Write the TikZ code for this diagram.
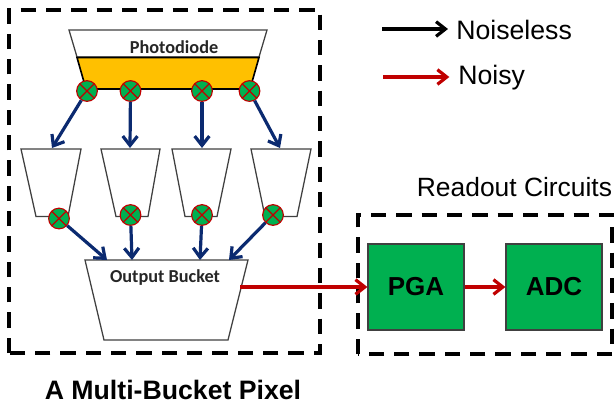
\documentclass[tikz,border=0pt]{standalone}
\usepackage{fontspec}
\setmainfont{Liberation Sans}
\newfontfamily\carl{Carlito}
\usetikzlibrary{arrows.meta}
\definecolor{navyarrow}{HTML}{0B2A70}
\definecolor{redline}{HTML}{C00000}
\definecolor{boxgreen}{HTML}{00B050}
\definecolor{pdorange}{HTML}{FFC000}
\definecolor{bucketline}{HTML}{404040}
\tikzset{
  px/.style={x=0.75pt,y=-0.75pt},
  dashbox/.style={draw=black,line width=2.7pt,dash pattern=on 11.5pt off 7.5pt,line cap=butt},
  bucket/.style={draw=bucketline,line width=0.95pt,line join=miter,fill=white},
  valve/.style={circle,draw=redline,fill=boxgreen,line width=0.85pt,minimum size=15.5pt,inner sep=0pt,
    path picture={\draw[redline,line width=0.85pt]
      (path picture bounding box.north west)--(path picture bounding box.south east)
      (path picture bounding box.north east)--(path picture bounding box.south west);}},
  navyarr/.style={line width=2.4pt,draw=navyarrow,-{Straight Barb[length=7pt,width=11pt]}},
  redarr/.style={line width=2.4pt,draw=redline,-{Straight Barb[length=7pt,width=11pt]}},
  blackarr/.style={line width=2.4pt,draw=black,-{Straight Barb[length=7pt,width=11pt]}},
  block/.style={draw=bucketline,fill=boxgreen,line width=0.9pt,minimum width=72pt,minimum height=64.5pt,inner sep=0pt,font=\fontsize{19.5pt}{21pt}\selectfont\bfseries},
  lbl/.style={inner sep=0pt,text=black},
  bucketlbl/.style={inner sep=0pt,text=black!85,font=\carl\bfseries\fontsize{13.7pt}{15pt}\selectfont},
}
\begin{document}
\begin{tikzpicture}[px]
\useasboundingbox (0,0) rectangle (615,405);
% dashed boxes
\draw[dashbox] (9,353) -- (9,10) -- (320,10) -- (320,353) -- cycle;
\draw[dashbox] (358,354) -- (358,215) -- (612,215) -- (612,354) -- cycle;
% photodiode
\draw[bucket] (69,30) -- (267,30) -- (259,57) -- (77,57) -- cycle;
\draw[draw=black,line width=1.2pt,fill=pdorange] (77,57.5) -- (259,57.5) -- (250,89) -- (86,89) -- cycle;
\node[bucketlbl] (pd) at (174,47) {Photodiode};
% transfer buckets
\draw[bucket] (21,149) -- (81,149) -- (68,216.5) -- (36,216.5) -- cycle;
\draw[bucket] (101,149) -- (160,149) -- (148,216.5) -- (116,216.5) -- cycle;
\draw[bucket] (172,149) -- (231,149) -- (217,216.5) -- (185,216.5) -- cycle;
\draw[bucket] (251,149) -- (311,149) -- (297,216.5) -- (265,216.5) -- cycle;
% output bucket
\draw[bucket] (85,260) -- (248,260) -- (228,340) -- (104,340) -- cycle;
\node[bucketlbl] (ob) at (165,278) {Output Bucket};
% anchor points on the buckets
\coordinate (a1) at (52,148);
\coordinate (a2) at (130,148);
\coordinate (a3) at (202,148);
\coordinate (a4) at (280,148);
\coordinate (b1) at (107,260);
\coordinate (b2) at (132,260);
\coordinate (b3) at (200,260);
\coordinate (b4) at (229,260);
\coordinate (obout) at (240,287);
% valves
\node[valve] (v1) at (87,91) {};
\node[valve] (v2) at (130.5,91) {};
\node[valve] (v3) at (202,91) {};
\node[valve] (v4) at (249.5,91) {};
\node[valve] (w1) at (59,218.5) {};
\node[valve] (w2) at (130.5,215) {};
\node[valve] (w3) at (202,215) {};
\node[valve] (w4) at (273,215) {};
% navy arrows
\draw[navyarr] (v1) -- (a1);
\draw[navyarr] (v2) -- (a2);
\draw[navyarr] (v3) -- (a3);
\draw[navyarr] (v4) -- (a4);
\draw[navyarr] (w1) -- (b1);
\draw[navyarr] (w2) -- (b2);
\draw[navyarr] (w3) -- (b3);
\draw[navyarr] (w4) -- (b4);
% readout blocks
\node[block] (pga) at (416,287) {PGA};
\node[block] (adc) at (554,287) {ADC};
\draw[redarr] (obout) -- (pga.west);
\draw[redarr] (pga.east) -- (adc.west);
% legend
\coordinate (k1) at (382,29);
\coordinate (k2) at (383,77);
\node[lbl,anchor=west,font=\fontsize{20pt}{22pt}\selectfont] (noiseless) at (456,30) {Noiseless};
\node[lbl,anchor=west,font=\fontsize{20pt}{22pt}\selectfont] (noisy) at (458,78) {Noisy};
\draw[blackarr] (k1) -- ([xshift=-6pt,yshift=0.75pt]noiseless.west);
\draw[redarr] (k2) -- ([xshift=-6.5pt,yshift=0.75pt]noisy.west);
% titles
\node[lbl,font=\fontsize{19.8pt}{22pt}\selectfont] (ro) at (514.5,187) {Readout Circuits};
\node[lbl,font=\fontsize{20pt}{22pt}\selectfont\bfseries] (title) at (173,390) {A Multi-Bucket Pixel};
\end{tikzpicture}
\end{document}
